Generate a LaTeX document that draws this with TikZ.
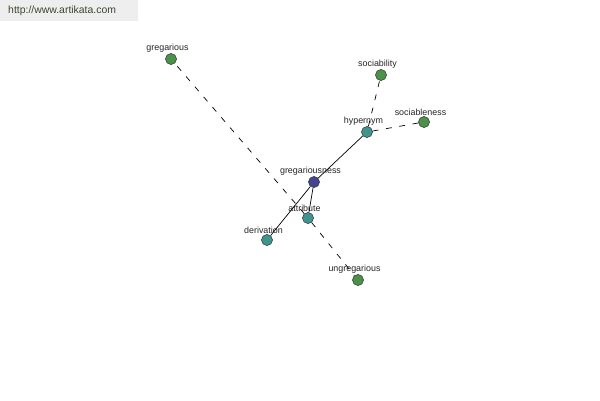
\documentclass[tikz,border=0pt]{standalone}
\usepackage{fontspec}
\setmainfont{Liberation Sans}
\definecolor{centre}{HTML}{45458F}
\definecolor{relacio}{HTML}{3F9490}
\definecolor{paraula}{HTML}{4C9148}
\definecolor{marca}{HTML}{EEEEEE}
\definecolor{textmarca}{HTML}{3A4630}
\tikzset{
  nus/.style={circle, draw=black!80, thin, minimum size=9.5pt, inner sep=0pt,
    label={[etiq]above:#1}},
  etiq/.style={font=\fontsize{7.6}{8}\selectfont, text=black!85, inner sep=1pt,
    label distance=-0.5pt, xshift=-3pt},
  ferm/.style={draw=black, semithick},
  puntejat/.style={draw=black, semithick, dash pattern=on 5pt off 6.5pt},
}

\begin{document}
\begin{tikzpicture}[x=0.03cm,y=-0.03cm]
  \useasboundingbox (0,0) rectangle (600,400);
  \fill[white] (0,0) rectangle (600,400);

  % Marca d'aigua.
  \fill[marca] (0,0) rectangle (138,21);
  \node[font=\fontsize{8.9}{10}\selectfont, text=textmarca, anchor=west, inner sep=0pt]
    (web) at (8,11) {http://www.artikata.com};

  % Nusos del graf.
  \node[nus=gregariousness, fill=centre] (gn) at (314,182) {};
  \node[nus=hypernym, fill=relacio] (hy) at (367,132) {};
  \node[nus=attribute, fill=relacio] (at) at (308,218) {};
  \node[nus=derivation, fill=relacio] (de) at (267,240) {};
  \node[nus=sociability, fill=paraula] (so) at (381,75) {};
  \node[nus=sociableness, fill=paraula] (sn) at (424,122) {};
  \node[nus=gregarious, fill=paraula] (gr) at (171,59) {};
  \node[nus=ungregarious, fill=paraula] (un) at (358,280) {};

  % Arestes.
  \draw[ferm] (gn)--(hy);
  \draw[ferm] (gn)--(at);
  \draw[ferm] (gn)--(de);
  \draw[puntejat] (hy)--(so);
  \draw[puntejat] (hy)--(sn);
  \draw[puntejat] (at)--(gr);
  \draw[puntejat] (at)--(un);
\end{tikzpicture}
\end{document}
